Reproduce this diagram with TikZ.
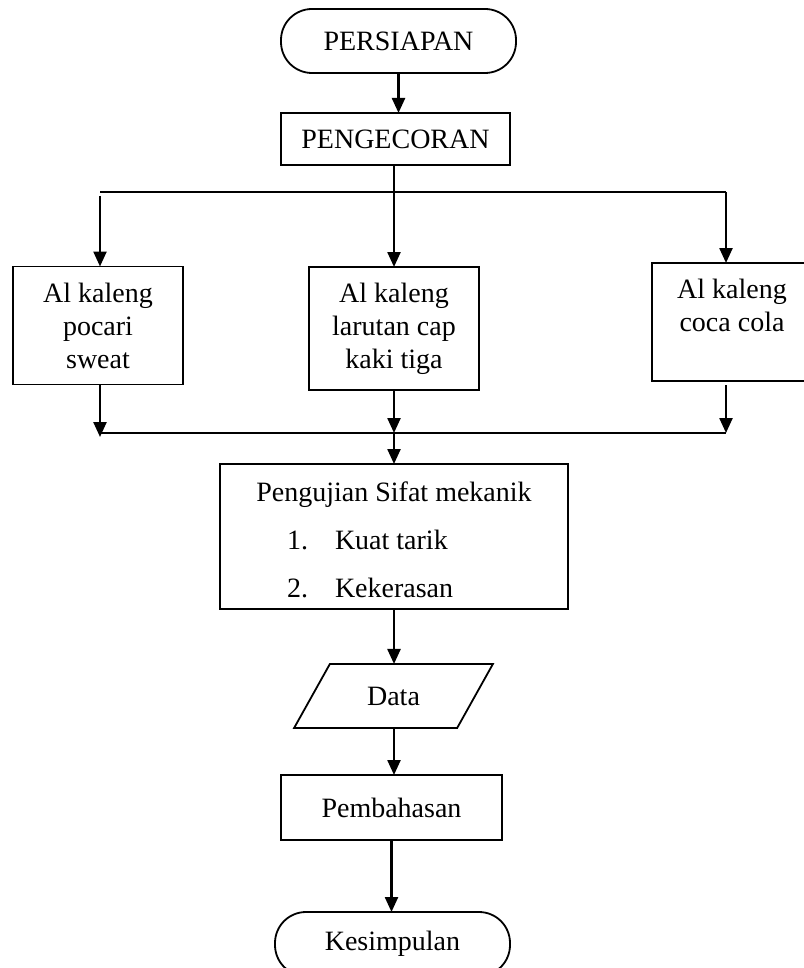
\documentclass[tikz,border=0pt]{standalone}
\usepackage{fontspec}
\setmainfont{Liberation Serif}
\usetikzlibrary{arrows.meta,shapes.geometric}

\begin{document}
\begin{tikzpicture}[x=1pt, y=-1pt]
\tikzset{ >={Triangle[length=15pt,width=13pt]}, inner sep=0pt, outer sep=0pt,
  txt/.style={font=\fontsize{28}{33}\selectfont, align=center},
  box/.style={txt, draw, line width=1.8pt},
  term/.style={box, rounded corners=31pt},
  flow/.style={line width=2.4pt},
}

\useasboundingbox (0,0) rectangle (803,968);
%\draw [lightgray, dashed](0,0) grid (803,968);

\node [term, minimum width=235, minimum height=64] (P) at (398.5,41)  {PERSIAPAN};
\node [box,  minimum width=229, minimum height=52] (G) at (395.5,139) {PENGECORAN};

\node [box, minimum width=170, minimum height=118] (A1) at (98,325.5)  {Al kaleng\\pocari\\sweat};
\node [box, minimum width=170, minimum height=123] (A2) at (394,328.5) {Al kaleng\\larutan cap\\kaki tiga};
\node [box, minimum width=160, minimum height=118] (A3) at (732,322)   {Al kaleng\\coca cola\\~};

\node [box, minimum width=348, minimum height=145] (U) at (394,536.5) {};
\node [txt, anchor=base] (U0) at (394,501) {Pengujian Sifat mekanik};
\node [txt, anchor=base west] (U1) at (287,549) {1.};
\node [txt, anchor=base west] (K1) at (335,549) {Kuat tarik};
\node [txt, anchor=base west] (U2) at (287,597) {2.};
\node [txt, anchor=base west] (K2) at (335,597) {Kekerasan};

\node [box, trapezium, trapezium left angle=51.4, trapezium right angle=128.6,
       trapezium stretches=true, minimum width=199, minimum height=64] (D) at (393.5,696) {Data};
\node [box,  minimum width=221, minimum height=65] (B) at (391.5,807.5) {Pembahasan};
\node [term, minimum width=235, minimum height=64] (S) at (392.5,944)   {Kesimpulan};

% cabang
\coordinate (s)  at (394,192);
\coordinate (sL) at (100,192);
\coordinate (sR) at (726,192);
\coordinate (j)  at (394,433);
\coordinate (jL) at (100,433);
\coordinate (jR) at (726,433);

\draw [->, flow] (P.south) -- (P.south |- G.north);
\draw [    flow] (G.south -| s) -- (s);
\draw [    flow] (sL) -- (sR);
\draw [->, flow] ([yshift=-4pt]sL) -- (sL |- A1.north);
\draw [->, flow] (s)  -- (A2.north -| s);
\draw [->, flow] (sR) -- (sR |- A3.north);

\draw [->, flow] (A1.south -| jL) -- ([yshift=-4pt]jL);
\draw [->, flow] (A2.south -| j)  -- (j);
\draw [->, flow] ([yshift=-4pt]sR |- A3.south) -- (jR);
\draw [    flow] (jL) -- (jR);
\draw [->, flow] (j) -- (U.north -| j);

\draw [->, flow] (U.south -| j) -- (D.north -| j);
\draw [->, flow] (D.south -| j) -- (B.north -| j);
\draw [->, flow] (B.south) -- (B.south |- S.north);
\end{tikzpicture}
\end{document}
